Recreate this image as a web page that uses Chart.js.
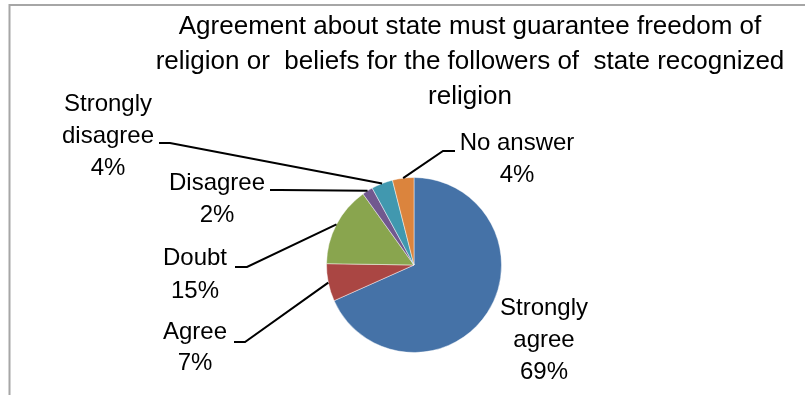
<!DOCTYPE html>
<html>
<head>
<meta charset="utf-8">
<script src="https://cdn.jsdelivr.net/npm/chart.js@4/dist/chart.umd.min.js"></script>
<style>
  html, body { margin: 0; padding: 0; background: #fff; }
  #wrap { position: relative; width: 805px; height: 395px; }
  canvas { display: block; }
</style>
</head>
<body>
<div id="wrap"><canvas id="pie" width="805" height="395"></canvas></div>
<script>
// ── data ──
var titleLines = [
  "Agreement about state must guarantee freedom of",
  "religion or  beliefs for the followers of  state recognized",
  "religion"
];
var categories = ["Strongly agree", "Agree", "Doubt", "Disagree", "Strongly disagree", "No answer"];
var percents = [69, 7, 15, 2, 4, 4];
var sliceColors = ["#4572A7", "#AA4643", "#89A54E", "#71588F", "#4198AF", "#DB843D"];

// label placement: text centre x, first line y, line step, leader elbow (x1 -> x2 at y)
var labelLayout = [
  { x: 544, y: 308, step: 32, wrap: true,  leader: null },
  { x: 195, y: 332, step: 31, wrap: false, leader: [234, 245, 342] },
  { x: 195, y: 258, step: 33, wrap: false, leader: [235, 247, 267] },
  { x: 217, y: 183, step: 32, wrap: false, leader: [270, 280, 190] },
  { x: 108, y: 104, step: 32, wrap: true,  leader: [159, 170, 143] },
  { x: 517, y: 143, step: 32, wrap: false, leader: [455, 443, 151] }
];

var FONT = '"Liberation Sans", Arial, sans-serif';

var framePlugin = {
  id: "frame",
  beforeDraw: function(chart) {
    var ctx = chart.ctx;
    ctx.save();
    ctx.fillStyle = "#fff";
    ctx.fillRect(0, 0, chart.width, chart.height);
    ctx.strokeStyle = "#a6a6a6";
    ctx.lineWidth = 2;
    ctx.beginPath();
    ctx.moveTo(9.5, chart.height);
    ctx.lineTo(9.5, 5);
    ctx.lineTo(chart.width, 5);
    ctx.stroke();
    ctx.restore();
  }
};

var labelPlugin = {
  id: "pieLabels",
  afterDraw: function(chart) {
    var ctx = chart.ctx;
    var meta = chart.getDatasetMeta(0);
    ctx.save();
    ctx.fillStyle = "#000";
    ctx.textAlign = "center";
    ctx.textBaseline = "middle";

    // title
    ctx.font = "26px " + FONT;
    titleLines.forEach(function(s, i) { ctx.fillText(s, 470, 27 + i * 35); });

    ctx.font = "24px " + FONT;
    ctx.strokeStyle = "#000";
    ctx.lineWidth = 2;
    meta.data.forEach(function(arc, i) {
      var L = labelLayout[i];
      var p = arc.getProps(["x", "y", "startAngle", "endAngle", "outerRadius"], true);
      var mid = (p.startAngle + p.endAngle) / 2;
      var ex = p.x + p.outerRadius * Math.cos(mid);
      var ey = p.y + p.outerRadius * Math.sin(mid);

      if (L.leader) {
        ctx.beginPath();
        ctx.moveTo(L.leader[0], L.leader[2]);
        ctx.lineTo(L.leader[1], L.leader[2]);
        ctx.lineTo(ex, ey);
        ctx.stroke();
      }

      var name = categories[i];
      var lines = L.wrap ? name.split(" ") : [name];
      lines.push(percents[i] + "%");
      lines.forEach(function(s, k) { ctx.fillText(s, L.x, L.y + k * L.step); });
    });
    ctx.restore();
  }
};

new Chart(document.getElementById("pie"), {
  type: "pie",
  data: {
    labels: categories,
    datasets: [{
      data: percents,
      backgroundColor: sliceColors,
      borderColor: "rgba(255,255,255,0.45)",
      borderWidth: 1
    }]
  },
  options: {
    responsive: false,
    animation: false,
    devicePixelRatio: 1,
    layout: { padding: { left: 326, right: 303, top: 177, bottom: 42 } },
    plugins: {
      legend: { display: false },
      title: { display: false },
      tooltip: { enabled: false }
    }
  },
  plugins: [framePlugin, labelPlugin]
});
</script>
</body>
</html>
